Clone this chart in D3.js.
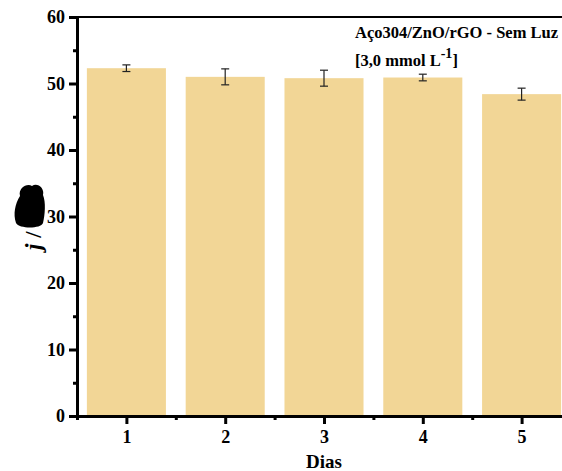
<!DOCTYPE html>
<html><head><meta charset="utf-8">
<script src="https://cdn.jsdelivr.net/npm/d3@7"></script>
<style>body{margin:0;background:#fff}svg{display:block}</style>
</head><body>
<script>
const categories = [1, 2, 3, 4, 5];
const values = [52.3, 51.0, 50.8, 50.9, 48.4];
const errors = [0.5, 1.2, 1.2, 0.5, 0.9];
const yTicks = [0, 10, 20, 30, 40, 50, 60];

const W = 562, H = 471;
const m = {l: 77, t: 17, b: 416};
const svg = d3.select("body").append("svg").attr("width", W).attr("height", H);
const font = "'Liberation Serif','Times New Roman',serif";

const x = d3.scaleLinear().domain([0.5, 5.5]).range([m.l, m.l + 5 * 98.8]);
const y = d3.scaleLinear().domain([0, 60]).range([m.b, m.t]);
const bw = (x(1) - x(0)) * 0.8;

svg.append("g").selectAll("rect").data(categories).join("rect")
  .attr("x", d => x(d) - bw / 2).attr("width", bw)
  .attr("y", (d, i) => y(values[i])).attr("height", (d, i) => y(0) - y(values[i]))
  .attr("fill", "#f2d696");

const eb = svg.append("g").attr("stroke", "#222").attr("stroke-width", 1.2);
categories.forEach((d, i) => {
  const cx = x(d), y1 = y(values[i] + errors[i]), y2 = y(values[i] - errors[i]);
  eb.append("line").attr("x1", cx).attr("x2", cx).attr("y1", y1).attr("y2", y2);
  eb.append("line").attr("x1", cx - 4).attr("x2", cx + 4).attr("y1", y1).attr("y2", y1);
  eb.append("line").attr("x1", cx - 4).attr("x2", cx + 4).attr("y1", y2).attr("y2", y2);
});

// axes
svg.append("g").attr("transform", `translate(${m.l},0)`)
  .call(d3.axisLeft(y).tickValues(yTicks).tickFormat(d3.format("d")).tickSize(8).tickPadding(4).tickSizeOuter(0));
svg.append("g").attr("transform", `translate(${m.l},0)`)
  .call(d3.axisLeft(y).tickValues(d3.range(5, 60, 10)).tickSize(4).tickFormat("").tickSizeOuter(0))
  .select(".domain").remove();
svg.append("g").attr("transform", `translate(0,${m.b})`)
  .call(d3.axisBottom(x).tickValues(categories).tickFormat(d3.format("d")).tickSize(8).tickPadding(6).tickSizeOuter(0));
svg.append("g").attr("transform", `translate(0,${m.b})`)
  .call(d3.axisBottom(x).tickValues([0.5, 1.5, 2.5, 3.5, 4.5, 5.5]).tickSize(4).tickFormat("").tickSizeOuter(0))
  .select(".domain").remove();
svg.selectAll(".domain").attr("stroke", "#000").attr("stroke-width", 3);
svg.selectAll(".tick line").attr("stroke", "#000").attr("stroke-width", 3);
svg.selectAll(".tick text").attr("font-family", font).attr("font-weight", "bold")
  .attr("font-size", 18).attr("fill", "#000");
// top border
svg.append("line").attr("x1", m.l - 1.5).attr("x2", W).attr("y1", m.t).attr("y2", m.t)
  .attr("stroke", "#000").attr("stroke-width", 2);

svg.append("text").attr("x", 324).attr("y", 468).attr("text-anchor", "middle")
  .attr("font-family", font).attr("font-weight", "bold").attr("font-size", 19).text("Dias");

const yl = svg.append("text").attr("transform", "translate(41,250) rotate(-90)")
  .attr("font-family", font).attr("font-weight", "bold").attr("font-size", 23);
yl.append("tspan").attr("font-style", "italic").text("j");
yl.append("tspan").text(" /");
// garbled unit glyph blob
svg.append("path")
  .attr("d", "M20,196 C18,188 27,183 32,186 C37,182 45,188 43,195 C46,202 45,215 43,223 C41,229 19,229 16,223 C13,214 15,204 20,196 Z")
  .attr("fill", "#000");

const t = svg.append("g").attr("font-family", font).attr("font-weight", "bold").attr("font-size", 16.5);
t.append("text").attr("x", 355).attr("y", 38).text("Aço304/ZnO/rGO - Sem Luz");
const t2 = t.append("text").attr("x", 355).attr("y", 66);
t2.append("tspan").text("[3,0 mmol L");
t2.append("tspan").attr("dy", -8).attr("font-size", 14).text("-1");
t2.append("tspan").attr("dy", 8).text("]");
</script>
</body></html>
